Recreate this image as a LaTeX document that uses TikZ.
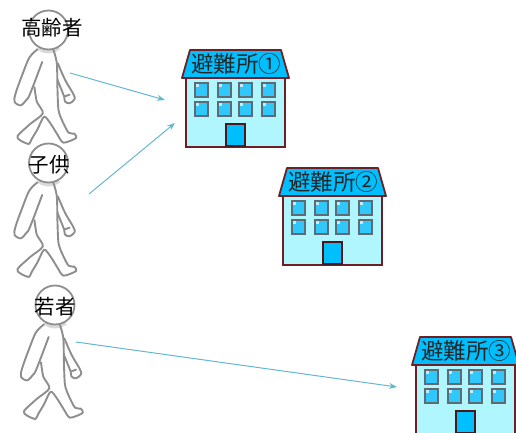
\documentclass[tikz,border=0pt]{standalone}
\usepackage{fontspec}
\newfontfamily\cjk{Noto Sans CJK JP}
\usetikzlibrary{arrows.meta}
\definecolor{roofc}{HTML}{00BFFF}
\definecolor{wallc}{HTML}{B0F6FF}
\definecolor{winc}{HTML}{30C8FA}
\definecolor{brick}{HTML}{6E1F24}
\definecolor{wline}{HTML}{5F6A72}
\definecolor{arrowc}{HTML}{62B9CF}
\definecolor{bodyc}{HTML}{8E8E8E}
\tikzset{
  x=1pt,y=-1pt,
  roofshape/.style={draw=brick,fill=roofc,line width=1.8pt,line join=round},
  wallshape/.style={draw=brick,fill=wallc,line width=1.8pt},
  doorshape/.style={draw=brick!70!black,fill=roofc,line width=1.2pt},
  winshape/.style={draw=wline,fill=winc,line width=1.5pt},
  bodyline/.style={draw=bodyc,line width=1.9pt,line join=round,line cap=round},
  headshape/.style={draw=bodyc,fill=white,line width=1.8pt},
  flow/.style={draw=arrowc,line width=1pt,-{Stealth[length=8pt,width=6pt]}},
  namelabel/.style={font=\cjk\fontsize{20.5}{21}\selectfont,inner sep=0pt,text=black},
  shelterlabel/.style={font=\cjk\fontsize{22.5}{23}\selectfont,inner sep=0pt,text=black!85},
}
\newcommand{\shelter}[4]{%
  \begin{scope}[shift={(#1,#2)}]
    \path[wallshape] (186,78) rectangle (285,147);
    \path[roofshape] (190,50) -- (281,50) -- (289,78) -- (182,78) -- cycle;
    \foreach \wx in {195,218,239,262}{
      \foreach \wy in {83,102}{
        \path[winshape] (\wx,\wy) rectangle ++(13,14);
        \fill[white!70!winc] (\wx+1,\wy+1) rectangle ++(2.5,3);
      }
    }
    \path[doorshape] (226,124) rectangle (245,146);
    \node[shelterlabel] (#3) at (236,64) {#4};
  \end{scope}}
\newcommand{\walker}[2]{%
  \begin{scope}[shift={(#1,#2)}]
    \fill[black!15] (-12,19) .. controls (-4,25) and (4,25) .. (12,19) -- (5,15) -- (-5,15) -- cycle;
    \begin{scope}[x=0.3333pt,y=-0.3333pt,shift={(-145,-90)}]
      \path[bodyline,fill=white] plot[smooth,tension=0.55] coordinates {
        (112,148) (88,172) (68,220) (47,278) (43,305) (62,316) (80,298) (86,290)
        (102,250) (126,186)};
      \path[bodyline] plot[smooth,tension=0.45] coordinates {
        (103,262) (110,305) (128,340) (90,372) (52,408) (60,421) (86,432) (94,418) (112,388) (132,350)
        (152,372) (172,404) (190,428) (228,414) (222,401) (205,398) (186,362) (175,330) (172,270) (170,190) (160,150)};
      \path[bodyline] plot[smooth,tension=0.55] coordinates {
        (173,190) (195,240) (220,283) (223,298) (208,310) (194,304) (192,290) (172,240)};
      \path[bodyline] (192,290) -- (208,284);
    \end{scope}
    \path[headshape] (0,0) circle (19.5);
  \end{scope}}
\begin{document}
\begin{tikzpicture}
\useasboundingbox (0,0) rectangle (516,433);
% people
\walker{48.5}{30}
\walker{48.5}{163}
\walker{55}{305}
\node[namelabel] (elder) at (52,28) {高齢者};
\node[namelabel] (child) at (49,165) {子供};
\node[namelabel] (young) at (55,307) {若者};
% shelters
\shelter{0}{0}{labelA}{避難所①}
\shelter{97}{118}{labelB}{避難所②}
\shelter{230}{287}{labelC}{避難所③}
% connectors
\coordinate (fromA) at (70,73);
\coordinate (toA) at (165,100);
\coordinate (fromB) at (89,194);
\coordinate (toB) at (175,123);
\coordinate (fromC) at (76,342);
\coordinate (toC) at (397,387);
\draw[flow] (fromA) -- (toA);
\draw[flow] (fromB) -- (toB);
\draw[flow] (fromC) -- (toC);
\end{tikzpicture}
\end{document}
